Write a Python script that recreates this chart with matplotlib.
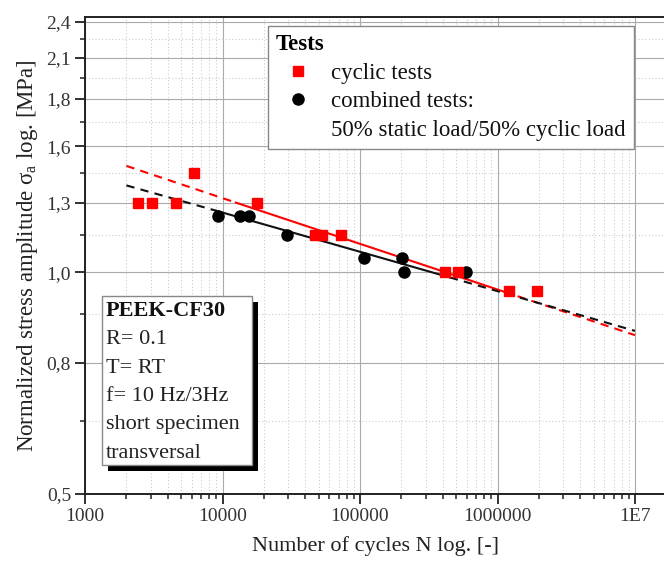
import matplotlib
matplotlib.use('Agg')
import matplotlib.pyplot as plt
from matplotlib.lines import Line2D
from matplotlib.patches import Rectangle
from matplotlib.ticker import FixedLocator, FixedFormatter, NullFormatter

plt.rcParams['font.family'] = ['Liberation Serif', 'DejaVu Serif']
plt.rcParams['mathtext.fontset'] = 'custom'
plt.rcParams['mathtext.rm'] = 'Liberation Serif'
plt.rcParams['mathtext.it'] = 'Liberation Serif:italic'

# ---------------- data ----------------
cyclic_N = [2440, 3060, 4610, 6240, 17900, 47000, 53200, 72400, 415000, 519000, 1210000, 1950000]
cyclic_S = [1.30, 1.30, 1.30, 1.435, 1.30, 1.165, 1.165, 1.165, 1.03, 1.03, 0.968, 0.968]
combined_N = [9320, 13300, 15600, 29300, 107500, 201000, 210000, 593000]
combined_S = [1.245, 1.245, 1.245, 1.165, 1.08, 1.08, 1.03, 1.03]

# regression lines: dashed / solid / dashed break points
cyclic_fit_N = [2000, 12500, 1110000, 10000000]
cyclic_fit_S = [1.47, 1.30, 0.965, 0.834]
combined_fit_N = [2000, 9000, 450000, 10000000]
combined_fit_S = [1.377, 1.265, 1.012, 0.846]

x_ticks = [1e3, 1e4, 1e5, 1e6, 1e7]
x_tick_labels = ['1000', '10000', '100000', '1000000', '1E7']
y_ticks = [0.49, 0.76, 1.03, 1.30, 1.57, 1.84, 2.11, 2.38]
y_tick_labels = ['0,5', '0,8', '1,0', '1,3', '1,6', '1,8', '2,1', '2,4']
y_minor = [0.625, 0.895, 1.165, 1.435, 1.705, 1.975, 2.245]

legend_title = 'Tests'
legend_labels = ['cyclic tests', 'combined tests:', '50% static load/50% cyclic load']
info_title = 'PEEK-CF30'
info_lines = ['R= 0.1', 'T= RT', 'f= 10 Hz/3Hz', 'short specimen', 'transversal']

# ---------------- figure ----------------
W, H = 664, 567
fig = plt.figure(figsize=(W / 100, H / 100), dpi=100)

def fx(px):
    return px / W

def fy(py):
    return 1 - py / H

ax_l, ax_r, ax_t, ax_b = 85, 667, 17, 494
ax = fig.add_axes([fx(ax_l), fy(ax_b), (ax_r - ax_l) / W, (ax_b - ax_t) / H])
ax.set_xscale('log')
ax.set_yscale('log')
ax.set_xlim(1e3, 10 ** (3 + (ax_r - ax_l) / 137.5))
ax.set_ylim(0.49, 2.42)

ax.xaxis.set_major_locator(FixedLocator(x_ticks))
ax.xaxis.set_major_formatter(FixedFormatter(x_tick_labels))
ax.yaxis.set_major_locator(FixedLocator(y_ticks))
ax.yaxis.set_major_formatter(FixedFormatter(y_tick_labels))
ax.yaxis.set_minor_locator(FixedLocator(y_minor))
ax.yaxis.set_minor_formatter(NullFormatter())
ax.xaxis.set_minor_formatter(NullFormatter())

ax.grid(which='major', color='#aaaaaa', linewidth=0.8, linestyle='-')
ax.grid(which='minor', color='#cccccc', linewidth=0.8, linestyle=(0, (1, 2)))
ax.set_axisbelow(True)

for s in ['left', 'bottom', 'top']:
    ax.spines[s].set_linewidth(1.4)
    ax.spines[s].set_color('#222222')
ax.spines['right'].set_visible(False)
ax.tick_params(which='major', direction='out', length=7, width=1.3, labelsize=14, pad=3, colors='#222222')
ax.tick_params(which='minor', direction='out', length=3.5, width=1.1, colors='#222222')
ax.tick_params(axis='both', labelcolor='#333333')

# fits
red = '#ff0000'
ax.plot(cyclic_fit_N[0:2], cyclic_fit_S[0:2], color=red, lw=1.5, dashes=(4, 3), zorder=2)
ax.plot(cyclic_fit_N[1:3], cyclic_fit_S[1:3], color=red, lw=1.5, zorder=2)
ax.plot(cyclic_fit_N[2:4], cyclic_fit_S[2:4], color=red, lw=1.5, dashes=(4, 3), zorder=2)
ax.plot(combined_fit_N[0:2], combined_fit_S[0:2], color='#111111', lw=1.5, dashes=(4, 3), zorder=2)
ax.plot(combined_fit_N[1:3], combined_fit_S[1:3], color='#111111', lw=1.5, zorder=2)
ax.plot(combined_fit_N[2:4], combined_fit_S[2:4], color='#111111', lw=1.5, dashes=(4, 3), zorder=2)

# points
ax.plot(combined_N, combined_S, linestyle='none', marker='o', ms=8, color='black', zorder=3)
ax.plot(cyclic_N, cyclic_S, linestyle='none', marker='s', ms=7, color=red, zorder=4)

ax.set_xlabel('Number of cycles N log. [-]', fontsize=16, color='#222222', labelpad=8)
ax.set_ylabel('Normalized stress amplitude σ$_\\mathrm{a}$ log. [MPa]', fontsize=16.5, color='#222222', labelpad=5)

# legend
handles = [Line2D([], [], linestyle='none', marker='s', ms=7, color=red),
           Line2D([], [], linestyle='none', marker='o', ms=8, color='black'),
           Line2D([], [], linestyle='none')]
leg = fig.legend(handles, legend_labels, loc='upper left', bbox_to_anchor=(fx(268), fy(26)),
                 title=legend_title, title_fontproperties={'weight': 'bold', 'size': 16.5},
                 alignment='left', fontsize=16.5, frameon=True, fancybox=False, framealpha=1,
                 edgecolor='#888888', borderpad=0.35, labelspacing=0.33, handlelength=1.9,
                 handletextpad=0.5, borderaxespad=0)
leg.get_frame().set_linewidth(1.0)
for t in leg.get_texts():
    t.set_color('#111111')

# info box with shadow
bx0, by0, bx1, by1 = 101.7, 296, 251.7, 465
fig.add_artist(Rectangle((fx(bx0 + 6), fy(by1 + 6)), (bx1 - bx0) / W, (by1 - by0) / H,
                         transform=fig.transFigure, facecolor='black', edgecolor='none', zorder=5))
fig.add_artist(Rectangle((fx(bx0), fy(by1)), (bx1 - bx0) / W, (by1 - by0) / H,
                         transform=fig.transFigure, facecolor='white', edgecolor='#888888', lw=1.0, zorder=6))
fig.text(fx(106), fy(311), info_title, fontsize=16, weight='bold', va='center', ha='left', zorder=7, color='#111111')
for i, line in enumerate(info_lines):
    fig.text(fx(106), fy(340 + 28.3 * i), line, fontsize=16, va='center', ha='left', zorder=7, color='#222222')

fig.savefig('out.png', dpi=100)
